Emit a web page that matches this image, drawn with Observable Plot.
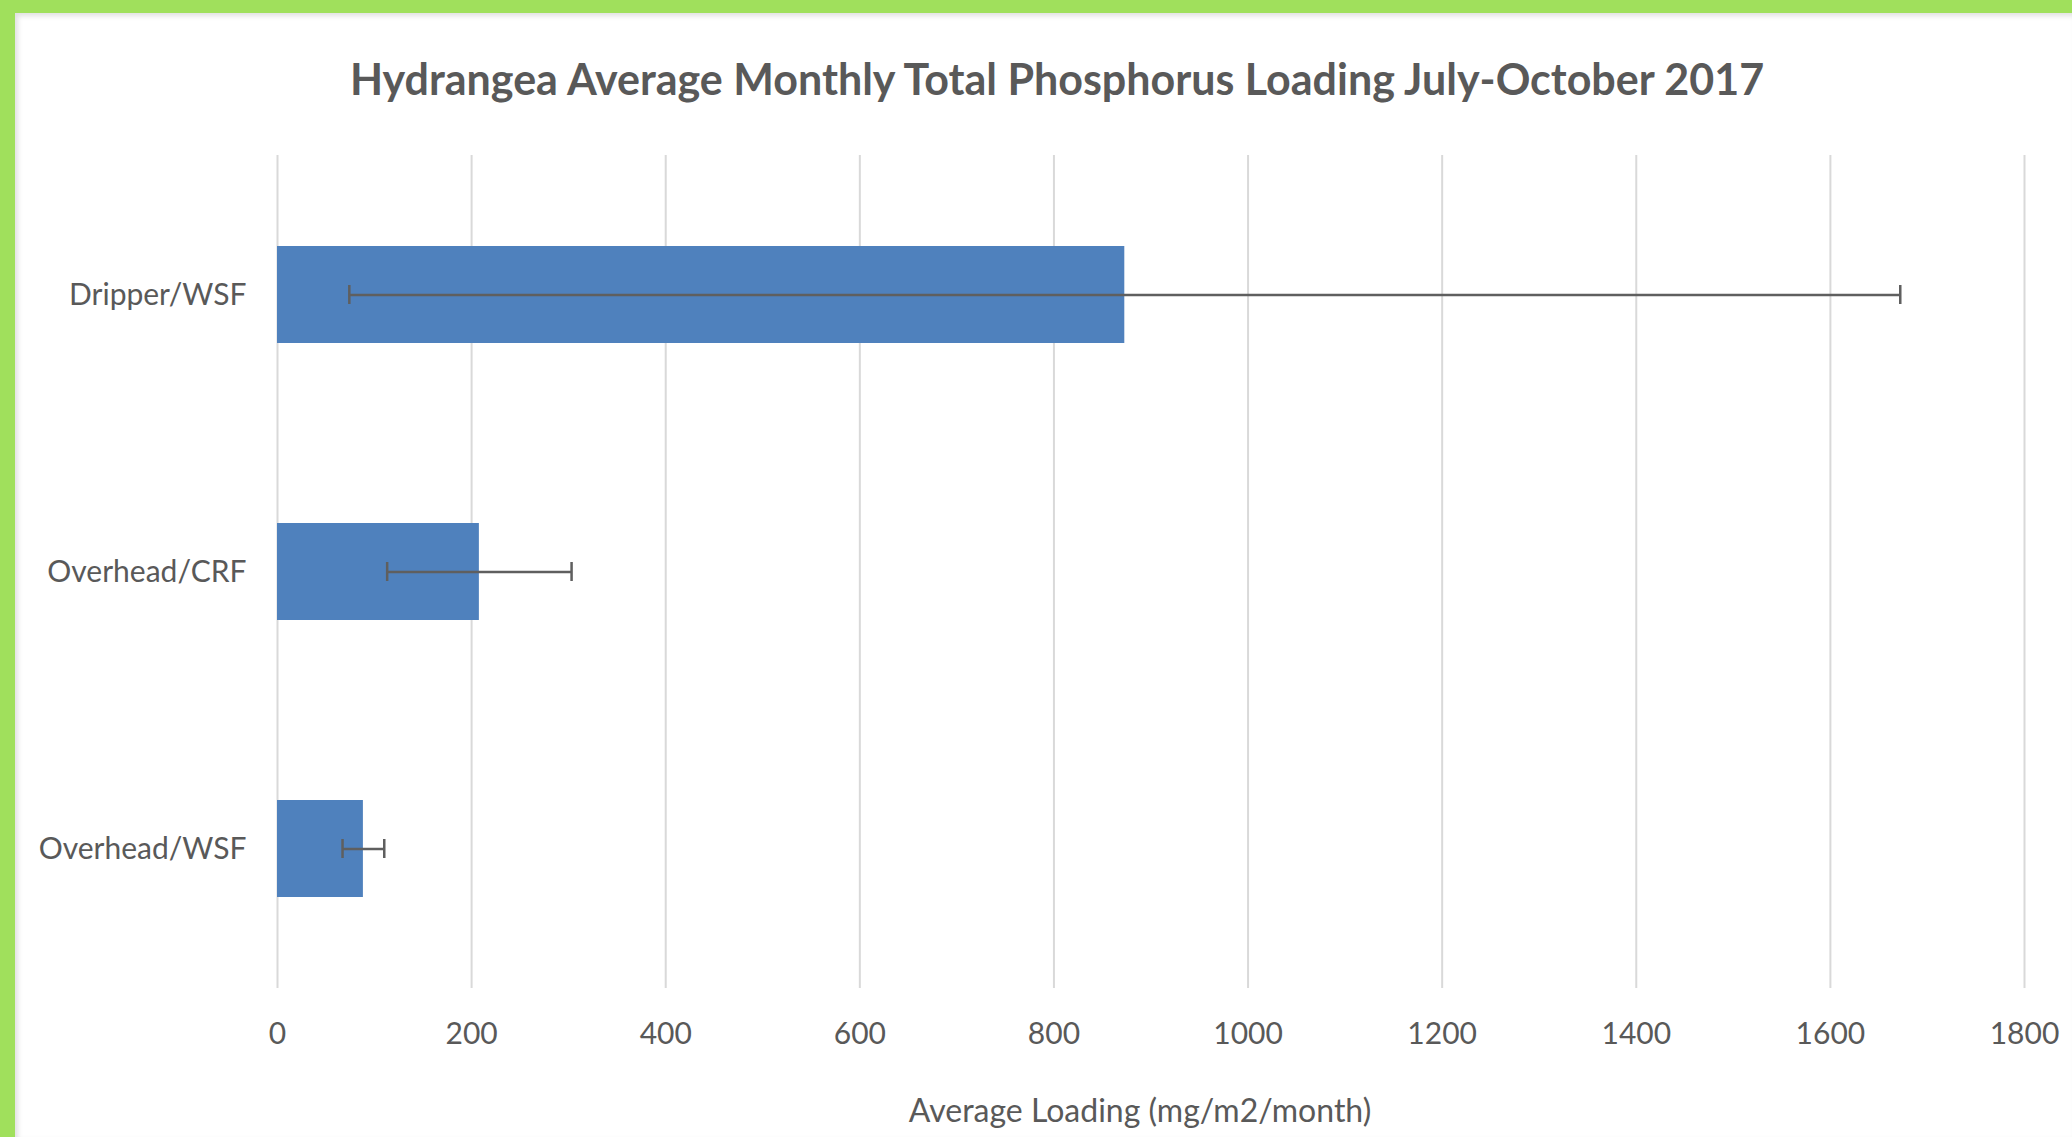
<!DOCTYPE html>
<html><head><meta charset="utf-8">
<script src="https://cdn.jsdelivr.net/npm/d3@7"></script>
<script src="https://cdn.jsdelivr.net/npm/@observablehq/plot@0.6"></script>
<style>
html,body{margin:0;padding:0;background:#fff;}
#frame{width:2072px;height:1137px;box-sizing:border-box;border-top:13px solid #a0e05c;border-left:15px solid #a0e05c;overflow:hidden;position:relative;font-family:Lato,sans-serif;box-shadow:inset 3px 3px 5px rgba(0,0,0,0.12);}
#title{height:132px;line-height:132px;text-align:center;padding-left:27px;font-weight:bold;font-size:43px;color:#595959;white-space:nowrap;}
#chart svg{display:block;}
</style></head><body>
<div id="frame"><div id="title">Hydrangea Average Monthly Total Phosphorus Loading July-October 2017</div><div id="chart"></div></div>
<script>
const categories = ["Dripper/WSF", "Overhead/CRF", "Overhead/WSF"];
const means = [873, 208, 88.5];
const errors = [799, 95, 21.5];
const xTicks = [0, 200, 400, 600, 800, 1000, 1200, 1400, 1600, 1800];
const xLabel = "Average Loading (mg/m2/month)";

const data = categories.map((c, i) => ({category: c, mean: means[i], lo: means[i] - errors[i], hi: means[i] + errors[i]}));

const chart = Plot.plot({
  width: 2057,
  height: 992,
  marginTop: 10,
  marginBottom: 149,
  marginLeft: 262,
  marginRight: 48,
  style: {fontFamily: "Lato, sans-serif", fontSize: "30px", color: "#595959", background: "transparent"},
  x: {domain: [0, 1800]},
  y: {domain: categories, paddingInner: 0.649, paddingOuter: 0.3245},
  marks: [
    Plot.gridX(xTicks, {stroke: "#d9d9d9", strokeOpacity: 1, strokeWidth: 2}),
    Plot.barX(data, {y: "category", x: "mean", fill: "#4f81bd"}),
    Plot.ruleY(data, {y: "category", x1: "lo", x2: "hi", stroke: "#5f5f5f", strokeWidth: 2.5}),
    Plot.tickX(data, {y: "category", x: "lo", stroke: "#5f5f5f", strokeWidth: 2.5, insetTop: 39, insetBottom: 39}),
    Plot.tickX(data, {y: "category", x: "hi", stroke: "#5f5f5f", strokeWidth: 2.5, insetTop: 39, insetBottom: 39}),
    Plot.axisX(xTicks, {tickSize: 0, tickPadding: 34, fontSize: 30, tickFormat: d => String(d), label: null}),
    Plot.text([xLabel], {text: d => d, frameAnchor: "bottom", lineAnchor: "bottom", dy: 133, dx: -11, fontSize: 32, fill: "currentColor"}),
    Plot.axisY({tickSize: 0, tickPadding: 31, fontSize: 30, label: null})
  ]
});
document.getElementById("chart").appendChild(chart);
</script>
</body></html>
